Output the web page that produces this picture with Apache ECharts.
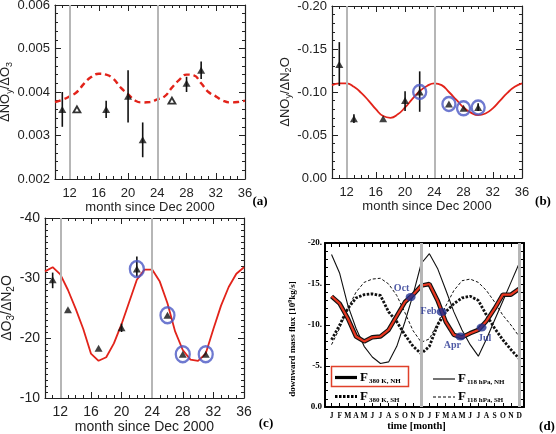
<!DOCTYPE html>
<html>
<head>
<meta charset="utf-8">
<script src="https://cdn.jsdelivr.net/npm/echarts@6/dist/echarts.min.js"></script>
<style>
  html, body { margin: 0; padding: 0; background: #fff; }
  #chart { width: 556px; height: 434px; }
</style>
</head>
<body>
<div id="chart"></div>
<script>
// ---- data ----
const fitMonths = [10, 11, 12, 13, 14, 15, 16, 17, 18, 19, 20, 21, 22, 23, 24, 25, 26, 27, 28, 29, 30, 31, 32, 33, 34, 35, 36];
const monthTicks = [12, 16, 20, 24, 28, 32, 36];
const grayMonths = [12, 24];

// (a) dNOy/dO3
const aMonths = [11, 13, 17, 20, 22, 26, 28, 30];
const aRatio = [0.0036, 0.0036, 0.0036, 0.0039, 0.0029, 0.0038, 0.0042, 0.0045];
const aErrLo = [0.0032, null, 0.0034, 0.0033, 0.0025, null, 0.0040, 0.0043];
const aErrHi = [0.0040, null, 0.0038, 0.0045, 0.0033, null, 0.00435, 0.0047];
const aHollow = [13, 26];
const aFit = [0.00377, 0.00382, 0.0039, 0.0040, 0.0042, 0.00435, 0.00442, 0.0044, 0.0043, 0.0041, 0.00395, 0.0038, 0.00376, 0.00377, 0.00383, 0.0039, 0.0041, 0.00428, 0.0044, 0.00438, 0.0042, 0.0040, 0.0039, 0.0038, 0.00376, 0.00377, 0.0038];

// (b) dNOy/dN2O
const bMonths = [11, 13, 17, 20, 22, 26, 28, 30];
const bRatio = [-0.132, -0.069, -0.069, -0.090, -0.100, -0.086, -0.081, -0.082];
const bErrLo = [-0.158, -0.074, null, -0.101, -0.124, null, null, -0.087];
const bErrHi = [-0.107, -0.064, null, -0.078, -0.077, null, null, -0.078];
const bCircled = [22, 26, 28, 30];
const bFit = [-0.108, -0.110, -0.110, -0.106, -0.099, -0.090, -0.080, -0.072, -0.070, -0.074, -0.082, -0.092, -0.101, -0.107, -0.110, -0.108, -0.100, -0.091, -0.082, -0.076, -0.073, -0.075, -0.081, -0.090, -0.099, -0.106, -0.110];

// (c) dO3/dN2O
const cMonths = [11, 13, 17, 20, 22, 26, 28, 31];
const cRatio = [-29.7, -24.7, -18.3, -21.7, -31.5, -23.8, -17.3, -17.3];
const cErrLo = [-30.9, null, null, -22.4, -33.6, null, null, null];
const cErrHi = [-28.3, null, null, -21.0, -30.2, null, null, null];
const cCircled = [22, 26, 28, 31];
const cFit = [-31.1, -31.8, -30.6, -28.0, -24.9, -21.5, -17.4, -16.2, -16.8, -19.1, -22.3, -26.0, -29.7, -31.4, -31.4, -29.4, -25.8, -21.1, -18.0, -16.4, -16.2, -17.4, -21.5, -25.4, -28.5, -30.7, -31.8];

// (d) downward mass flux
const monthLetters = ['J', 'F', 'M', 'A', 'M', 'J', 'J', 'A', 'S', 'O', 'N', 'D', 'J', 'F', 'M', 'A', 'M', 'J', 'J', 'A', 'S', 'O', 'N', 'D'];
const monthIndex = [0, 1, 2, 3, 4, 5, 6, 7, 8, 9, 10, 11, 12, 13, 14, 15, 16, 17, 18, 19, 20, 21, 22, 23];
const f380NH = [-13.5, -12.6, -10.8, -8.6, -8.0, -8.5, -8.6, -9.4, -11.1, -12.8, -13.7, -14.8, -15.0, -13.0, -10.4, -8.8, -8.5, -9.0, -9.4, -10.5, -12.0, -13.7, -13.7, -14.4];
const f380SH = [-8.2, -10.0, -12.0, -13.3, -13.7, -13.8, -13.6, -11.6, -10.4, -8.8, -7.4, -6.5, -7.4, -10.0, -11.6, -12.6, -13.3, -13.5, -13.0, -11.2, -9.6, -8.2, -7.0, -5.9];
const f118NH = [-18.6, -16.3, -12.4, -9.6, -7.4, -6.1, -5.3, -5.5, -7.4, -10.4, -13.7, -17.5, -18.7, -16.9, -14.3, -11.6, -9.4, -7.6, -6.2, -8.3, -10.6, -12.9, -15.2, -17.5];
const f118SH = [-7.6, -9.6, -12.0, -14.0, -15.2, -15.6, -15.7, -15.0, -13.6, -11.5, -9.3, -7.9, -8.3, -10.2, -12.3, -14.2, -15.4, -15.6, -15.2, -14.2, -12.8, -11.2, -10.0, -8.6];
const dotNames = ['Oct', 'Feb', 'Apr', 'Jul'];
const dotMonth = [9.7, 13.5, 15.8, 18.4];
const dotFlux = [-13.4, -11.6, -8.6, -9.7];
const dGrayMonths = [11, 23];

// ---- styling ----
const SANS = '"Liberation Sans", Arial, sans-serif';
const SERIF = '"Liberation Serif", "Times New Roman", serif';
const INK = '#222';
const GRAY = '#b6b6b6';
const RED = '#e2231a';
const BLUE = '#4a57c4';
const NAVY = '#22308f';
const dotLabelOffsets = [[-9, -9], [-13, 0], [-8, 9], [3, 11]];

const zip = (xs, ys) => xs.map((x, i) => [x, ys[i]]);

const grids = [
  { left: 55, top: 5, width: 190, height: 174 },
  { left: 332, top: 6, width: 190, height: 172 },
  { left: 45, top: 218, width: 199, height: 180 },
  { left: 325, top: 243, width: 199, height: 164 }
].map(g => ({ ...g, outerBoundsMode: 'none' }));

const xAxes = [];
const yAxes = [];

function frameX(grid, cfg) {
  const common = { gridIndex: grid, type: 'value', min: cfg.min, max: cfg.max, splitLine: { show: false } };
  const line = { onZero: false, lineStyle: { color: cfg.color, width: cfg.lineWidth } };
  const tick = { inside: true, length: cfg.tickLen, customValues: cfg.ticks, lineStyle: { color: cfg.color, width: 1 } };
  const idx = xAxes.length;
  xAxes.push({
    ...common, position: 'bottom', axisLine: line, axisTick: tick,
    axisLabel: { customValues: cfg.ticks, ...cfg.label },
    name: cfg.name, nameLocation: 'middle', nameGap: cfg.nameGap, nameTextStyle: cfg.nameStyle
  });
  xAxes.push({ ...common, position: 'top', axisLine: line, axisTick: tick, axisLabel: { show: false } });
  if (cfg.minor) {
    ['bottom', 'top'].forEach(pos => xAxes.push({
      ...common, position: pos, interval: 1,
      axisLine: { show: false, onZero: false },
      axisTick: { inside: true, length: 3, lineStyle: { color: cfg.color } },
      axisLabel: { show: false }
    }));
  }
  return idx;
}

function frameY(grid, cfg) {
  const common = {
    gridIndex: grid, type: 'value', min: cfg.min, max: cfg.max, interval: cfg.interval,
    inverse: !!cfg.inverse, splitLine: { show: false }
  };
  const line = { onZero: false, lineStyle: { color: cfg.color, width: cfg.lineWidth } };
  const tick = { inside: true, length: cfg.tickLen, lineStyle: { color: cfg.color, width: 1 } };
  const minor = { show: true, splitNumber: cfg.minorSplit, length: 3, lineStyle: { color: cfg.color, width: 1 } };
  const idx = yAxes.length;
  yAxes.push({
    ...common, position: 'left', axisLine: line, axisTick: tick, minorTick: minor,
    axisLabel: cfg.label,
    name: cfg.name, nameLocation: 'middle', nameRotate: 90, nameGap: cfg.nameGap, nameTextStyle: cfg.nameStyle
  });
  yAxes.push({ ...common, position: 'right', axisLine: line, axisTick: tick, minorTick: minor, axisLabel: { show: false } });
  return idx;
}

const sansLabel = fs => ({ fontFamily: SANS, fontSize: fs, color: INK });
const monthName = (fs) => ({ fontFamily: SANS, fontSize: fs, color: INK });
const ratioRich = fs => ({
  rich: {
    t: { fontFamily: SANS, fontSize: fs, color: INK },
    s: { fontFamily: SANS, fontSize: fs - 4, color: INK, padding: [7, 0, 0, 0] }
  }
});

// panel axes
const axA = {
  x: frameX(0, { min: 10, max: 36, ticks: monthTicks, color: INK, lineWidth: 1.2, tickLen: 6, minor: true,
    label: { ...sansLabel(13), margin: 8 }, name: 'month since Dec 2000', nameGap: 20, nameStyle: monthName(13) }),
  y: frameY(0, { min: 0.002, max: 0.006, interval: 0.001, color: INK, lineWidth: 1.2, tickLen: 6, minorSplit: 5,
    label: { ...sansLabel(13), margin: 5, formatter: v => v.toFixed(3) },
    name: '{t|ΔNO}{s|y}{t|/ΔO}{s|3}', nameGap: 38, nameStyle: ratioRich(13) })
};
const axB = {
  x: frameX(1, { min: 10, max: 36, ticks: monthTicks, color: INK, lineWidth: 1.2, tickLen: 6, minor: true,
    label: { ...sansLabel(13), margin: 8 }, name: 'month since Dec 2000', nameGap: 20, nameStyle: monthName(13) }),
  y: frameY(1, { min: -0.2, max: 0, interval: 0.05, inverse: true, color: INK, lineWidth: 1.2, tickLen: 6, minorSplit: 5,
    label: { ...sansLabel(13), margin: 5, formatter: v => v.toFixed(2) },
    name: '{t|ΔNO}{s|y}{t|/ΔN}{s|2}{t|O}', nameGap: 36, nameStyle: ratioRich(13) })
};
const axC = {
  x: frameX(2, { min: 10, max: 36, ticks: monthTicks, color: INK, lineWidth: 1.2, tickLen: 6, minor: true,
    label: { ...sansLabel(14), margin: 7 }, name: 'month since Dec 2000', nameGap: 20, nameStyle: monthName(14) }),
  y: frameY(2, { min: -40, max: -10, interval: 10, inverse: true, color: INK, lineWidth: 1.2, tickLen: 6, minorSplit: 10,
    label: { ...sansLabel(14), margin: 5 },
    name: '{t|ΔO}{s|3}{t|/ΔN}{s|2}{t|O}', nameGap: 28, nameStyle: ratioRich(14) })
};
const axD = {
  x: frameX(3, { min: -0.8, max: 23.6, ticks: monthIndex, color: '#000', lineWidth: 2, tickLen: 4, minor: false,
    label: { fontFamily: SERIF, fontWeight: 'bold', fontSize: 7.5, color: '#000', margin: 5, formatter: v => monthLetters[v] },
    name: 'time [month]', nameGap: 14,
    nameStyle: { fontFamily: SERIF, fontWeight: 'bold', fontSize: 10.5, color: '#000', padding: [0, 16, 0, 0] } }),
  y: frameY(3, { min: -20, max: 0, interval: 5, inverse: true, color: '#000', lineWidth: 2, tickLen: 5, minorSplit: 5,
    label: { fontFamily: SERIF, fontWeight: 'bold', fontSize: 9, color: '#000', margin: 3,
      formatter: v => (v === 0 ? '0.0' : v + '.') },
    name: 'downward mass flux [10{sup|9}kg/s]', nameGap: 26,
    nameStyle: {
      fontFamily: SERIF, fontWeight: 'bold', fontSize: 9, color: '#000', padding: [0, 28, 0, 0],
      rich: { sup: { fontFamily: SERIF, fontWeight: 'bold', fontSize: 6, color: '#000', padding: [0, 0, 6, 0] } }
    } })
};

function grayMark(months, width) {
  return {
    silent: true, symbol: ['none', 'none'], label: { show: false },
    lineStyle: { color: GRAY, width: width, type: 'solid' },
    data: months.map(m => ({ xAxis: m }))
  };
}

function errorSeries(ax, months, lo, hi) {
  const data = months.map((m, i) => [m, lo[i], hi[i]]).filter(d => d[1] != null);
  return {
    type: 'custom', xAxisIndex: ax.x, yAxisIndex: ax.y, data: data, z: 3,
    encode: { x: 0, y: [1, 2] },
    renderItem: (params, api) => {
      const p1 = api.coord([api.value(0), api.value(1)]);
      const p2 = api.coord([api.value(0), api.value(2)]);
      return { type: 'line', shape: { x1: p1[0], y1: p1[1], x2: p2[0], y2: p2[1] }, style: { stroke: '#111', lineWidth: 1.6 } };
    }
  };
}

function triangles(ax, pts, hollow) {
  return {
    type: 'scatter', xAxisIndex: ax.x, yAxisIndex: ax.y, data: pts, z: 4,
    symbol: 'triangle', symbolSize: hollow ? [7, 6] : [8, 7],
    itemStyle: hollow ? { color: '#fff', borderColor: '#000', borderWidth: 1.8 } : { color: '#111' }
  };
}

function rings(ax, pts, size) {
  return {
    type: 'scatter', xAxisIndex: ax.x, yAxisIndex: ax.y, data: pts, z: 5,
    symbol: 'circle', symbolSize: size,
    itemStyle: { color: 'rgba(0,0,0,0)', borderColor: BLUE, borderWidth: 2.4 }
  };
}

const pick = (months, vals, list, keep) =>
  months.map((m, i) => [m, vals[i]]).filter(p => (list.indexOf(p[0]) >= 0) === keep);

const series = [
  // (a)
  { type: 'line', xAxisIndex: axA.x, yAxisIndex: axA.y, data: zip(fitMonths, aFit), smooth: true, symbol: 'none', z: 2,
    lineStyle: { color: RED, width: 2.4, type: [6, 4] }, markLine: grayMark(grayMonths, 2) },
  errorSeries(axA, aMonths, aErrLo, aErrHi),
  triangles(axA, pick(aMonths, aRatio, aHollow, false), false),
  triangles(axA, pick(aMonths, aRatio, aHollow, true), true),
  // (b)
  { type: 'line', xAxisIndex: axB.x, yAxisIndex: axB.y, data: zip(fitMonths, bFit), smooth: true, symbol: 'none', z: 2,
    lineStyle: { color: RED, width: 1.8 }, markLine: grayMark(grayMonths, 2) },
  errorSeries(axB, bMonths, bErrLo, bErrHi),
  triangles(axB, zip(bMonths, bRatio), false),
  rings(axB, pick(bMonths, bRatio, bCircled, true), [13, 14]),
  // (c)
  { type: 'line', xAxisIndex: axC.x, yAxisIndex: axC.y, data: zip(fitMonths, cFit), smooth: false, symbol: 'none', z: 2,
    lineStyle: { color: RED, width: 1.8 }, markLine: grayMark(grayMonths, 2) },
  errorSeries(axC, cMonths, cErrLo, cErrHi),
  triangles(axC, zip(cMonths, cRatio), false),
  rings(axC, pick(cMonths, cRatio, cCircled, true), [14, 16]),
  // (d)
  { type: 'line', xAxisIndex: axD.x, yAxisIndex: axD.y, data: zip(monthIndex, f118SH), symbol: 'none', z: 2,
    lineStyle: { color: '#111', width: 1, type: [3, 2] }, markLine: grayMark(dGrayMonths, 3) },
  { type: 'line', xAxisIndex: axD.x, yAxisIndex: axD.y, data: zip(monthIndex, f118NH), symbol: 'none', z: 2,
    lineStyle: { color: '#111', width: 1.1 } },
  { type: 'line', xAxisIndex: axD.x, yAxisIndex: axD.y, data: zip(monthIndex, f380SH), symbol: 'none', z: 2,
    lineStyle: { color: '#111', width: 2.8, type: [2.5, 1.5] } },
  { type: 'line', xAxisIndex: axD.x, yAxisIndex: axD.y, data: zip(monthIndex, f380NH), symbol: 'none', z: 3,
    lineStyle: { color: '#111', width: 4.5 } },
  { type: 'line', xAxisIndex: axD.x, yAxisIndex: axD.y, data: zip(monthIndex, f380NH), symbol: 'none', z: 4,
    lineStyle: { color: '#e8361f', width: 2.2 } },
  { type: 'scatter', xAxisIndex: axD.x, yAxisIndex: axD.y, z: 5,
    data: dotMonth.map((m, i) => ({
      value: [m, dotFlux[i]], name: dotNames[i],
      label: { offset: dotLabelOffsets[i] }
    })),
    symbol: 'circle', symbolSize: [10, 8], itemStyle: { color: NAVY },
    label: { show: true, position: 'inside', formatter: p => p.name,
      fontFamily: SERIF, fontWeight: 'bold', fontSize: 10, color: NAVY } }
];

// legend of panel (d) and panel tags
const fRich = {
  f: { fontFamily: SERIF, fontWeight: 'bold', fontSize: 13, color: '#000' },
  s: { fontFamily: SERIF, fontWeight: 'bold', fontSize: 7, color: '#000', padding: [7, 0, 0, 1] }
};
const legendRows = [
  { x: 335, y: 377.5, sub: '380 K, NH', width: 3.2, dash: null },
  { x: 335, y: 396.5, sub: '380 K, SH', width: 2.8, dash: [2.5, 1.5] },
  { x: 433, y: 379, sub: '118 hPa, NH', width: 1.1, dash: null },
  { x: 433, y: 397, sub: '118 hPa, SH', width: 1, dash: [3, 2] }
];
const graphic = [
  { type: 'rect', shape: { x: 331.5, y: 366.5, width: 77, height: 20 }, style: { fill: 'none', stroke: '#e0402a', lineWidth: 1.5 }, z: 10 }
];
legendRows.forEach(r => {
  graphic.push({ type: 'line', shape: { x1: r.x, y1: r.y, x2: r.x + 22, y2: r.y },
    style: { stroke: '#000', lineWidth: r.width, lineDash: r.dash }, z: 10 });
  graphic.push({ type: 'text', x: r.x + 25, y: r.y, z: 10,
    style: { text: '{f|F}{s|' + r.sub + '}', rich: fRich, verticalAlign: 'middle', align: 'left' } });
});
[['(a)', 260, 202], ['(b)', 543, 202], ['(c)', 266, 424], ['(d)', 547, 427]].forEach(t => {
  graphic.push({ type: 'text', x: t[1], y: t[2], z: 10,
    style: { text: t[0], fontFamily: SERIF, fontWeight: 'bold', fontSize: 13, fill: '#000', align: 'center', verticalAlign: 'middle' } });
});

const chart = echarts.init(document.getElementById('chart'));
chart.setOption({
  animation: false,
  backgroundColor: '#fff',
  grid: grids,
  xAxis: xAxes,
  yAxis: yAxes,
  series: series,
  graphic: graphic
});
window.addEventListener('resize', () => chart.resize());
</script>
</body>
</html>
